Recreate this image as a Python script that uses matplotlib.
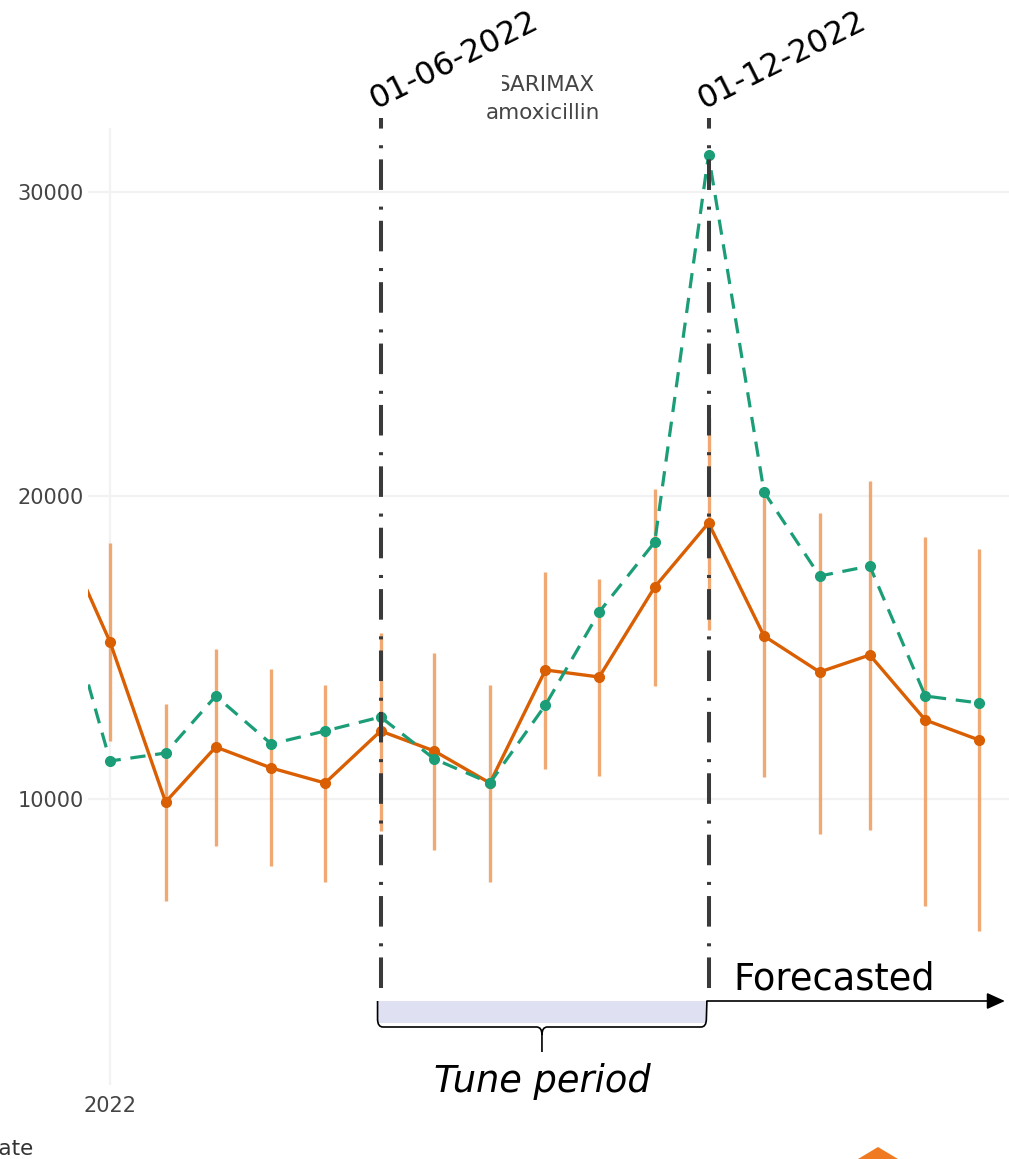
import pandas as pd
import matplotlib
matplotlib.use('Agg')
import matplotlib.pyplot as plt
import matplotlib.dates as mdates
from matplotlib.path import Path
from matplotlib.patches import PathPatch, Rectangle, Polygon, FancyArrowPatch
from matplotlib.transforms import Affine2D, blended_transform_factory

plt.rcParams['font.family'] = ['DejaVu Sans']
plt.rcParams['lines.scale_dashes'] = False

# monthly values, Dec 2021 .. May 2023
months = pd.date_range('2021-12-01', '2023-05-01', freq='MS')
actual = [17740, 11253, 11516, 13395, 11813, 12242, 12703, 11319, 10527,
          13099, 16165, 18472, 31230, 20120, 17351, 17681, 13395, 13165]
predicted = [19290, 15176, 9901, 11714, 11022, 10527, 12242, 11582, 10527,
             14253, 14022, 16989, 19099, 15373, 14187, 14747, 12604, 11945]
# prediction interval, Jan 2022 .. May 2023
pred_low = [11912, 6638, 8451, 7791, 7264, 8945, 8319, 7264, 10989,
            10758, 13725, 15571, 10725, 8846, 8978, 6473, 5649]
pred_high = [18439, 13132, 14945, 14285, 13758, 15472, 14813, 13758, 17483,
             17252, 20219, 22560, 20120, 19428, 20483, 18637, 18241]
yticks = [10000, 20000, 30000]
tune_start = pd.Timestamp('2022-06-01')
tune_end = pd.Timestamp('2022-12-01')
first_tick = pd.Timestamp('2022-01-01')

W, H = 1009, 1159
fig = plt.figure(figsize=(W / 100, H / 100), dpi=100)
ax = fig.add_axes([88 / W, (H - 1085) / H, (W - 88) / W, (1085 - 128) / H])

# pixel coords (origin top-left) for the hand-drawn overlay
px = Affine2D().scale(1 / W, -1 / H).translate(0, 1) + fig.transFigure
bt = blended_transform_factory(ax.transData, px)

green = '#1b9e77'
orange = '#d95f02'

ax.vlines(months[1:], pred_low, pred_high, color='#ef9a5c', alpha=0.85, lw=2.4, zorder=2)
ax.plot(months, predicted, color=orange, lw=2.4, marker='o', ms=7, zorder=3)
ax.plot(months, actual, color=green, lw=2.3, ls=(0, (11, 7)), marker='o', ms=7, zorder=4)

t0 = mdates.date2num(first_tick)
ax.set_xlim(t0 - 12.3, t0 + 501.7)
ax.set_ylim(572, 32120)
ax.set_yticks(yticks)
ax.set_yticklabels([str(v) for v in yticks])
ax.set_xticks([first_tick])
ax.set_xticklabels(['2022'])
ax.tick_params(length=0, labelsize=15, labelcolor='#444444')
ax.tick_params(axis='y', pad=3)
ax.tick_params(axis='x', pad=8)
ax.grid(True, color='#f2f2f2', lw=1.6)
ax.set_axisbelow(True)
for s in ax.spines.values():
    s.set_visible(False)

# tuning period boundaries
for d in [tune_start, tune_end]:
    ax.axvline(d, ymin=(1085 - 988) / 957, ymax=(1085 - 118) / 957, color='#3a3a3a',
               lw=2.9, ls=(0, (22, 8, 2.2, 12)), clip_on=False, zorder=5)
    ax.annotate(d.strftime('%d-%m-%Y'), xy=(mdates.date2num(d), 109), xycoords=bt,
                xytext=(-5, 0), textcoords='offset pixels', rotation=26.5,
                rotation_mode='anchor', ha='left', va='baseline', fontsize=22.8,
                color='black', annotation_clip=False, zorder=7)

# title (first letter partly hidden in the reference)
fig.text(546, 91, 'SARIMAX', transform=px, ha='center', va='baseline',
         fontsize=15.5, color='#444444')
fig.text(543, 119, 'amoxicillin', transform=px, ha='center', va='baseline',
         fontsize=15.5, color='#444444')
fig.patches.append(Rectangle((470, 68), 32, 28, transform=px, facecolor='white',
                             edgecolor='none', zorder=6))

# tune period box and brace
x0 = mdates.date2num(tune_start) - 1.7
x1 = mdates.date2num(tune_end) - 1.2
mid = (x0 + x1) / 2
fig.patches.append(Rectangle((x0, 1001), x1 - x0, 22, transform=bt,
                             facecolor='#dfe1f3', edgecolor='none'))
verts = [(x0, 1001), (x0, 1019), (x0, 1027), (x0 + 3, 1027), (mid - 3, 1027),
         (mid, 1027), (mid, 1035), (mid, 1052),
         (mid, 1035), (mid, 1027), (mid + 3, 1027), (x1 - 3, 1027),
         (x1, 1027), (x1, 1019), (x1 + 0.3, 1001)]
codes = [Path.MOVETO, Path.LINETO, Path.CURVE3, Path.CURVE3, Path.LINETO,
         Path.CURVE3, Path.CURVE3, Path.LINETO,
         Path.MOVETO, Path.CURVE3, Path.CURVE3, Path.LINETO,
         Path.CURVE3, Path.CURVE3, Path.LINETO]
fig.patches.append(PathPatch(Path(verts, codes), transform=bt, fill=False,
                             edgecolor='black', lw=1.2))

fig.text(542, 1092, 'Tune period', transform=px, ha='center', va='baseline',
         fontsize=26.5, style='italic', color='black')

# forecast arrow
fig.patches.append(FancyArrowPatch((x1 + 0.3, 1001), (t0 + 499.4, 1001), transform=bt,
                                   arrowstyle='-|>,head_length=11,head_width=5',
                                   color='black', lw=1.2, shrinkA=0, shrinkB=0))
fig.text(733, 989, 'Forecasted', transform=px, ha='left', va='baseline',
         fontsize=26.5, color='black')

# cut-off axis title and logo corner
fig.text(34, 1139, 'Date', transform=px, ha='right', va='top', fontsize=15.5, color='#333333')
fig.patches.append(Polygon([(853, 1162), (878, 1147), (903, 1162)], closed=True,
                           transform=px, facecolor='#f07a22', edgecolor='none'))

fig.savefig('out.png', dpi=100)
